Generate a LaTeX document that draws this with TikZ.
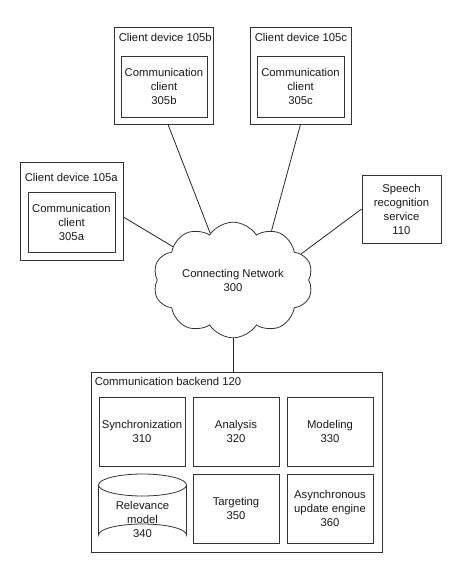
\documentclass[tikz,border=0pt]{standalone}
\usepackage{fontspec}
\setmainfont{Liberation Sans}
\usetikzlibrary{shapes.symbols}
\begin{document}
\begin{tikzpicture}[x=1pt,y=-1pt,
  every node/.style={font=\fontsize{11.3}{14}\selectfont, text=black!90},
  box/.style={draw=black!80, line width=0.8pt, rectangle, inner sep=0pt, align=center},
  conn/.style={draw=black!85, line width=0.8pt},
  ttl/.style={anchor=west, inner sep=0pt}]
\useasboundingbox (0,0) rectangle (474,580);

% client device 105b
\node[box, minimum width=99pt, minimum height=97pt] (devb) at (163.5,75.5) {};
\node[ttl] (devbt) at ([xshift=5pt,yshift=-11pt]devb.north west) {Client device 105b};
\node[box, minimum width=86pt, minimum height=61pt] (clib) at (164,86.5) {Communication\\client\\305b};

% client device 105c
\node[box, minimum width=101pt, minimum height=97pt] (devc) at (300.5,75.5) {};
\node[ttl] (devct) at ([xshift=5pt,yshift=-11pt]devc.north west) {Client device 105c};
\node[box, minimum width=87pt, minimum height=61pt] (clic) at (300.5,86.5) {Communication\\client\\305c};

% client device 105a
\node[box, minimum width=103pt, minimum height=98pt] (deva) at (71.5,211) {};
\node[ttl] (devat) at ([xshift=5pt,yshift=-16pt]deva.north west) {Client device 105a};
\node[box, minimum width=87pt, minimum height=60pt] (clia) at (71.5,222) {Communication\\client\\305a};

% speech recognition
\node[box, minimum width=79pt, minimum height=68pt] (speech) at (401.5,209) {Speech\\recognition\\service\\110};

% cloud
\node[cloud, draw=black!80, line width=0.8pt, cloud puffs=10, cloud puff arc=115, aspect=1.5,
      minimum width=160pt, minimum height=106pt, inner sep=0pt, align=center] (net) at (233,280)
      {Connecting Network\\300};

% backend
\node[box, minimum width=291pt, minimum height=180pt] (back) at (236.5,462) {};
\node[ttl] (backt) at ([xshift=4pt,yshift=-10pt]back.north west) {Communication backend 120};
\node[box, minimum width=86pt, minimum height=69pt] (sync) at (142,431.5) {Synchronization\\310};
\node[box, minimum width=86pt, minimum height=69pt] (anal) at (236,431.5) {Analysis\\320};
\node[box, minimum width=86pt, minimum height=69pt] (model) at (330,431.5) {Modeling\\330};
% relevance model cylinder
\draw[draw=black!80, line width=0.8pt] (98.5,485) -- (98.5,535) arc[start angle=180, end angle=360, x radius=44, y radius=11] -- (186.5,485);
\draw[draw=black!80, line width=0.8pt] (142.5,485) ellipse [x radius=44, y radius=11];
\node[align=center, inner sep=0pt] (rel) at (142.5,519.5) {Relevance\\model\\340};
\node[box, minimum width=86pt, minimum height=69pt] (targ) at (236,508.5) {Targeting\\350};
\node[box, minimum width=86pt, minimum height=69pt] (async) at (330,508.5) {Asynchronous\\update engine\\360};

% connectors
\draw[conn] ([xshift=4.5pt]devb.south) -- (net.116);
\draw[conn] (devc.south) -- (net.52);
\draw[conn] ([yshift=-6pt]deva.east) -- (net.151);
\draw[conn] (speech.west) -- (net.21);
\draw[conn] (net.south) -- (net.south |- back.north);
\end{tikzpicture}
\end{document}
